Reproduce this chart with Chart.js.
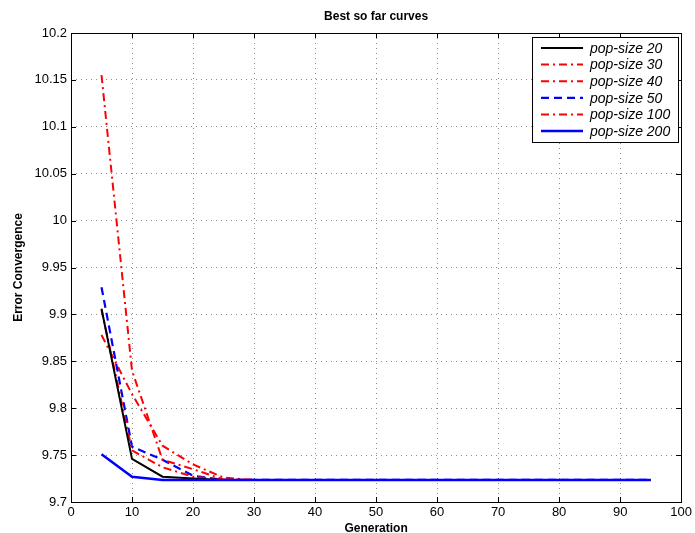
<!DOCTYPE html>
<html>
<head>
<meta charset="utf-8">
<script src="https://cdn.jsdelivr.net/npm/chart.js@4"></script>
<style>
  body { margin: 0; background: #fff; }
</style>
</head>
<body>
<canvas id="bestChart" width="695" height="533"></canvas>
<script>
// Generasi (sumbu x)
const gens = [5, 10, 15, 20, 25, 30, 35, 40, 45, 50, 55, 60, 65, 70, 75, 80, 85, 90, 95];

// Nilai error untuk tiap ukuran populasi
const pop20  = [9.906, 9.746, 9.727, 9.725, 9.7235, 9.7235, 9.7235, 9.7235, 9.7235, 9.7235, 9.7235, 9.7235, 9.7235, 9.7235, 9.7235, 9.7235, 9.7235, 9.7235, 9.7235];
const pop30  = [9.905, 9.755, 9.737, 9.727, 9.7235, 9.7235, 9.7235, 9.7235, 9.7235, 9.7235, 9.7235, 9.7235, 9.7235, 9.7235, 9.7235, 9.7235, 9.7235, 9.7235, 9.7235];
const pop40  = [10.155, 9.840, 9.745, 9.735, 9.724, 9.7235, 9.7235, 9.7235, 9.7235, 9.7235, 9.7235, 9.7235, 9.7235, 9.7235, 9.7235, 9.7235, 9.7235, 9.7235, 9.7235];
const pop50  = [9.929, 9.759, 9.745, 9.728, 9.7235, 9.7235, 9.7235, 9.7235, 9.7235, 9.7235, 9.7235, 9.7235, 9.7235, 9.7235, 9.7235, 9.7235, 9.7235, 9.7235, 9.7235];
const pop100 = [9.878, 9.815, 9.760, 9.740, 9.726, 9.7235, 9.7235, 9.7235, 9.7235, 9.7235, 9.7235, 9.7235, 9.7235, 9.7235, 9.7235, 9.7235, 9.7235, 9.7235, 9.7235];
const pop200 = [9.751, 9.727, 9.7235, 9.7235, 9.7235, 9.7235, 9.7235, 9.7235, 9.7235, 9.7235, 9.7235, 9.7235, 9.7235, 9.7235, 9.7235, 9.7235, 9.7235, 9.7235, 9.7235];

// Label tick
const xTicks = [0, 10, 20, 30, 40, 50, 60, 70, 80, 90, 100];
const yTicks = [9.7, 9.75, 9.8, 9.85, 9.9, 9.95, 10, 10.05, 10.1, 10.15, 10.2];

const toPoints = (vals) => vals.map((v, i) => ({ x: gens[i], y: v }));
const dashDot = [8, 4, 2, 4];

const series = (label, vals, color, dash, width, order) => ({
    label: label,
    data: toPoints(vals),
    borderColor: color,
    borderDash: dash,
    borderWidth: width,
    pointRadius: 0,
    tension: 0,
    fill: false,
    order: order
});

// Judul, kotak plot, tick ke dalam, dan legenda
const decorPlugin = {
    id: 'decor',
    afterDraw(chart) {
        const c = chart.ctx;
        const a = chart.chartArea;
        const xs = chart.scales.x;
        const ys = chart.scales.y;
        c.save();
        // judul
        c.fillStyle = '#000';
        c.font = 'bold 12px "Liberation Sans", Arial, sans-serif';
        c.textAlign = 'center';
        c.textBaseline = 'middle';
        c.fillText('Best so far curves', (a.left + a.right) / 2, 17);

        // kotak plot
        c.strokeStyle = '#000';
        c.lineWidth = 1;
        c.setLineDash([]);
        c.strokeRect(Math.round(a.left) + 0.5, Math.round(a.top) + 0.5,
            Math.round(a.right - a.left), Math.round(a.bottom - a.top));

        // tick ke dalam
        c.beginPath();
        xTicks.forEach(v => {
            const px = Math.round(xs.getPixelForValue(v)) + 0.5;
            c.moveTo(px, a.bottom); c.lineTo(px, a.bottom - 5);
            c.moveTo(px, a.top); c.lineTo(px, a.top + 5);
        });
        yTicks.forEach(v => {
            const py = Math.round(ys.getPixelForValue(v)) + 0.5;
            c.moveTo(a.left, py); c.lineTo(a.left + 5, py);
            c.moveTo(a.right, py); c.lineTo(a.right - 5, py);
        });
        c.stroke();

        // legenda
        const bx = 532.5, by = 37.5, bw = 146, bh = 105;
        c.fillStyle = '#fff';
        c.fillRect(bx, by, bw, bh);
        c.strokeRect(bx, by, bw, bh);
        c.font = 'italic 14px "Liberation Sans", Arial, sans-serif';
        c.textAlign = 'left';
        chart.data.datasets.forEach((ds, i) => {
            const yy = 48 + i * 16.6;
            c.strokeStyle = ds.borderColor;
            c.lineWidth = ds.borderWidth;
            c.setLineDash(ds.borderDash || []);
            c.beginPath();
            c.moveTo(541, yy); c.lineTo(583, yy);
            c.stroke();
            c.setLineDash([]);
            c.fillStyle = '#000';
            c.fillText(ds.label, 590, yy + 1);
        });
        c.restore();
    }
};

const ctx = document.getElementById('bestChart').getContext('2d');
const bestChart = new Chart(ctx, {
    type: 'line',
    data: {
        datasets: [
            series('pop-size 20', pop20, '#000000', [], 2, 1),
            series('pop-size 30', pop30, '#ff0000', dashDot, 2, 1),
            series('pop-size 40', pop40, '#ff0000', dashDot, 2, 1),
            series('pop-size 50', pop50, '#0000ff', [8, 5], 2.2, 1),
            series('pop-size 100', pop100, '#ff0000', dashDot, 2, 1),
            series('pop-size 200', pop200, '#0000ff', [], 2.5, 0)
        ]
    },
    options: {
        responsive: false,
        animation: false,
        layout: { padding: { top: 33, right: 10, left: 0, bottom: 0 } },
        plugins: {
            legend: { display: false },
            title: { display: false },
            tooltip: { enabled: false }
        },
        scales: {
            x: {
                type: 'linear',
                min: 0,
                max: 100,
                afterBuildTicks: (scale) => { scale.ticks = xTicks.map(v => ({ value: v })); },
                afterFit: (scale) => { scale.height = 31; },
                ticks: {
                    color: '#000',
                    padding: 3,
                    maxRotation: 0,
                    font: { family: '"Liberation Sans", Arial, sans-serif', size: 13 }
                },
                grid: { color: '#8c8c8c', lineWidth: 1, drawTicks: false },
                border: { display: false, dash: [1, 4] },
                title: {
                    display: true,
                    text: 'Generation',
                    color: '#000',
                    padding: 0,
                    font: { family: '"Liberation Sans", Arial, sans-serif', size: 12, weight: 'bold', lineHeight: 0.8 }
                }
            },
            y: {
                type: 'linear',
                min: 9.7,
                max: 10.2,
                afterBuildTicks: (scale) => { scale.ticks = yTicks.map(v => ({ value: v })); },
                afterFit: (scale) => { scale.width = 71; },
                ticks: {
                    color: '#000',
                    padding: 4,
                    callback: (v) => String(+v.toFixed(2)),
                    font: { family: '"Liberation Sans", Arial, sans-serif', size: 13 }
                },
                grid: { color: '#8c8c8c', lineWidth: 1, drawTicks: false },
                border: { display: false, dash: [1, 4] },
                title: {
                    display: true,
                    text: 'Error Convergence',
                    color: '#000',
                    padding: { top: 11, bottom: 0 },
                    font: { family: '"Liberation Sans", Arial, sans-serif', size: 12, weight: 'bold' }
                }
            }
        }
    },
    plugins: [decorPlugin]
});
</script>
</body>
</html>
